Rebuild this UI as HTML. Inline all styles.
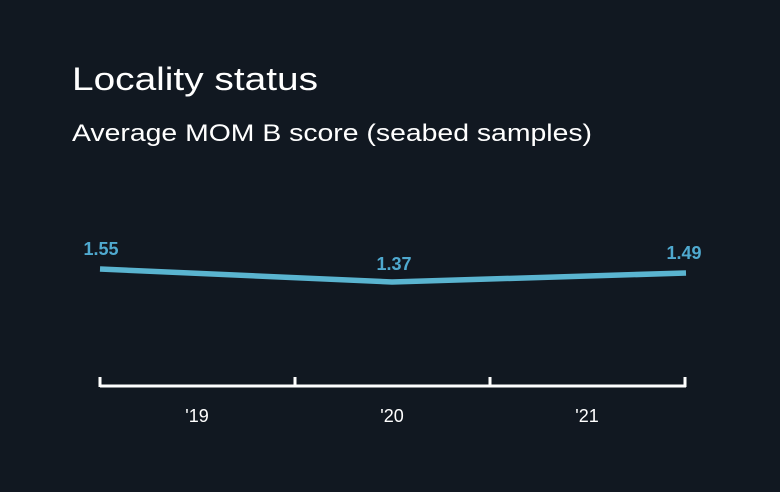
<!DOCTYPE html>
<html><head><style>html,body{margin:0;padding:0;background:#111821;}</style></head>
<body>
<svg width="780" height="492" xmlns="http://www.w3.org/2000/svg" style="display:block">
<rect width="780" height="492" fill="#111821"/>
<text x="72" y="90" font-family="Liberation Sans, sans-serif" font-size="32" fill="#ffffff" textLength="246" lengthAdjust="spacingAndGlyphs">Locality status</text>
<text x="72" y="141" font-family="Liberation Sans, sans-serif" font-size="24" fill="#ffffff" textLength="520" lengthAdjust="spacingAndGlyphs">Average MOM B score (seabed samples)</text>
<polyline points="100,269 392,282 686,273" fill="none" stroke="#5ab4d0" stroke-width="5.5"/>
<g font-family="Liberation Sans, sans-serif" font-size="18" font-weight="bold" fill="#4fa9cf" text-anchor="middle">
<text x="101" y="255">1.55</text>
<text x="394" y="270">1.37</text>
<text x="684" y="259">1.49</text>
</g>
<g stroke="#ffffff" stroke-width="3" fill="none">
<line x1="100" y1="386" x2="686" y2="386"/>
<line x1="100" y1="377" x2="100" y2="387"/>
<line x1="295" y1="377" x2="295" y2="387"/>
<line x1="490" y1="377" x2="490" y2="387"/>
<line x1="685" y1="377" x2="685" y2="387"/>
</g>
<g font-family="Liberation Sans, sans-serif" font-size="18" fill="#ffffff" text-anchor="middle">
<text x="197" y="422">'19</text>
<text x="392" y="422">'20</text>
<text x="587" y="422">'21</text>
</g>
</svg>
</body></html>
